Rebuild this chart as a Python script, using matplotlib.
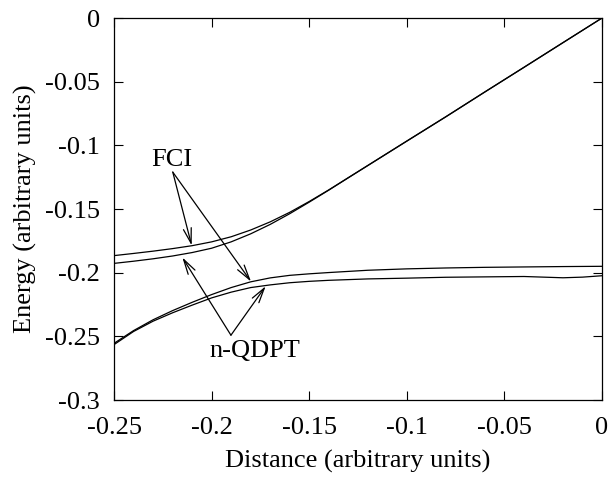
import matplotlib
matplotlib.use("Agg")
import matplotlib.pyplot as plt

plt.rcParams["font.family"] = ["Liberation Serif", "DejaVu Serif"]
plt.rcParams["axes.unicode_minus"] = False

# upper pair of curves (avoided crossing, upper state)
x_up = [-0.25, -0.24, -0.23, -0.22, -0.21, -0.2, -0.19, -0.18, -0.17, -0.16,
        -0.15, -0.14, -0.13, -0.12, -0.11, -0.1, -0.08, -0.06, -0.04, -0.02, 0.0]
fci_up = [-0.1866, -0.1849, -0.1831, -0.1811, -0.1788, -0.1758, -0.1718, -0.1665,
          -0.1601, -0.1526, -0.1441, -0.1350, -0.1254, -0.1158, -0.1062, -0.0966,
          -0.0775, -0.0580, -0.0387, -0.0193, 0.0]
nq_up = [-0.1927, -0.1910, -0.1891, -0.1869, -0.1842, -0.1808, -0.1758, -0.1695,
         -0.1621, -0.1537, -0.1446, -0.1352, -0.1255, -0.1159, -0.1063, -0.0967,
         -0.0776, -0.0581, -0.0388, -0.0194, 0.0]

# lower pair of curves (lower state)
x_low = [-0.25, -0.24, -0.23, -0.22, -0.21, -0.2, -0.19, -0.18, -0.17, -0.16,
         -0.15, -0.14, -0.12, -0.1, -0.08, -0.06, -0.04, -0.02, -0.01, 0.0]
fci_low = [-0.2555, -0.2455, -0.2370, -0.2298, -0.2233, -0.2172, -0.2117, -0.2072,
           -0.2041, -0.2021, -0.2009, -0.1999, -0.1981, -0.1970, -0.1963, -0.1958,
           -0.1955, -0.1952, -0.1951, -0.1950]
nq_low = [-0.2565, -0.2462, -0.2381, -0.2315, -0.2255, -0.2198, -0.2153, -0.2117,
          -0.2096, -0.2079, -0.2068, -0.2060, -0.2049, -0.2043, -0.2036, -0.2033,
          -0.2030, -0.2040, -0.2035, -0.2024]

xticks = [-0.25, -0.2, -0.15, -0.1, -0.05, 0]
xlabels = ["-0.25", "-0.2", "-0.15", "-0.1", "-0.05", "0"]
yticks = [-0.3, -0.25, -0.2, -0.15, -0.1, -0.05, 0]
ylabels = ["-0.3", "-0.25", "-0.2", "-0.15", "-0.1", "-0.05", "0"]

fig = plt.figure(figsize=(6.11, 4.79), dpi=100)
ax = fig.add_axes([0.1866, 0.1649, 0.7987, 0.7975])

for xs, ys in [(x_up, fci_up), (x_up, nq_up), (x_low, fci_low), (x_low, nq_low)]:
    ax.plot(xs, ys, color="black", lw=0.9)

ax.set_xlim(-0.25, 0)
ax.set_ylim(-0.3, 0)
ax.set_xticks(xticks)
ax.set_xticklabels(xlabels)
ax.set_yticks(yticks)
ax.set_yticklabels(ylabels)
ax.tick_params(direction="in", length=6.5, width=0.8, top=True, right=True,
               labelsize=19)
ax.tick_params(axis="x", pad=12)
ax.tick_params(axis="y", pad=10)
for s in ax.spines.values():
    s.set_linewidth(0.9)

ax.set_xlabel("Distance (arbitrary units)", fontsize=19, labelpad=8)
ax.set_ylabel("Energy (arbitrary units)", fontsize=19, labelpad=6)

arrow = dict(arrowstyle="->,head_length=0.6,head_width=0.16", color="black",
             lw=0.9, shrinkA=0, shrinkB=0, mutation_scale=18)

ax.text(-0.2204, -0.1113, "FCI", fontsize=19, ha="center", va="center")
ax.annotate("", xy=(-0.2102, -0.1787), xytext=(-0.2199, -0.1210), arrowprops=arrow)
ax.annotate("", xy=(-0.1798, -0.2070), xytext=(-0.2199, -0.1210), arrowprops=arrow)

ax.text(-0.1778, -0.2614, "n-QDPT", fontsize=19, ha="center", va="center")
ax.annotate("", xy=(-0.2150, -0.1880), xytext=(-0.1901, -0.2491), arrowprops=arrow)
ax.annotate("", xy=(-0.1723, -0.2106), xytext=(-0.1901, -0.2491), arrowprops=arrow)

fig.savefig("out.png", dpi=100)
